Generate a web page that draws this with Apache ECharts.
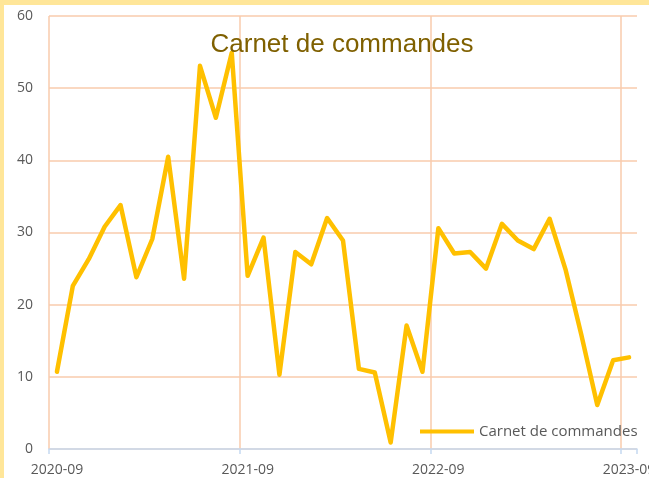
<!DOCTYPE html>
<html>
<head>
<meta charset="utf-8">
<script src="https://cdn.jsdelivr.net/npm/echarts@6/dist/echarts.min.js"></script>
<style>
  html, body { margin: 0; padding: 0; background: #ffffff; }
  #chart { width: 649px; height: 478px; }
</style>
</head>
<body>
<div id="chart"></div>
<script>
// Monthly order-book readings, Sept 2020 to Sept 2023
const months = [
  '2020-09','2020-10','2020-11','2020-12','2021-01','2021-02','2021-03','2021-04','2021-05','2021-06','2021-07','2021-08',
  '2021-09','2021-10','2021-11','2021-12','2022-01','2022-02','2022-03','2022-04','2022-05','2022-06','2022-07','2022-08',
  '2022-09','2022-10','2022-11','2022-12','2023-01','2023-02','2023-03','2023-04','2023-05','2023-06','2023-07','2023-08',
  '2023-09'
];
const carnet = [
  10.7, 22.6, 26.3, 30.8, 33.8, 23.8, 29.1, 40.5, 23.6, 53.1, 45.9, 54.9,
  24.0, 29.3, 10.3, 27.3, 25.6, 32.0, 28.9, 11.1, 10.6, 0.9, 17.1, 10.7,
  30.6, 27.1, 27.3, 25.0, 31.2, 28.9, 27.7, 31.9, 24.9, 15.8, 6.1, 12.3,
  12.7
];
const seriesName = 'Carnet de commandes';
const yTicks = { min: 0, max: 60, step: 10 };

const chart = echarts.init(document.getElementById('chart'), null, { renderer: 'canvas' });
const labelFont = '"Open Sans", "Liberation Sans", sans-serif';
const gridPeach = '#F8CBAD';

chart.setOption({
  animation: false,
  backgroundColor: '#ffffff',
  graphic: [
    { type: 'rect', left: 0, top: 0, shape: { width: 649, height: 5 }, style: { fill: '#FFE699' }, z: 100 },
    { type: 'rect', left: 0, top: 0, shape: { width: 4, height: 478 }, style: { fill: '#FFE699' }, z: 100 }
  ],
  title: {
    text: seriesName,
    left: 337,
    top: 27,
    textAlign: 'center',
    textStyle: {
      fontFamily: '"Liberation Sans", Arial, sans-serif',
      fontSize: 26,
      fontWeight: 'normal',
      color: '#7F6000'
    }
  },
  legend: {
    data: [seriesName],
    left: 420,
    top: 424,
    padding: 0,
    icon: 'rect',
    itemWidth: 54,
    itemHeight: 4,
    itemGap: 5,
    textStyle: { fontFamily: labelFont, fontSize: 15, color: '#595959', padding: [0, 0, 0, 0] }
  },
  grid: { left: 49, right: 12, top: 16, bottom: 29, containLabel: false, outerBoundsMode: 'none' },
  xAxis: {
    type: 'category',
    data: months,
    boundaryGap: true,
    axisLine: { show: true, lineStyle: { color: '#C5D9F1', width: 1.5 } },
    axisTick: { show: true, interval: 11, alignWithLabel: false, length: 5, lineStyle: { color: '#C5D9F1', width: 1.5 } },
    axisLabel: { interval: 11, margin: 14, color: '#595959', fontFamily: labelFont, fontSize: 14, hideOverlap: false },
    // yearly vertical guides; the closing boundary at the right edge stays invisible
    splitLine: {
      show: true,
      interval: 11,
      lineStyle: { color: [gridPeach, gridPeach, gridPeach, gridPeach, 'rgba(0,0,0,0)'], width: 1.5 }
    }
  },
  yAxis: {
    type: 'value',
    min: yTicks.min,
    max: yTicks.max,
    interval: yTicks.step,
    axisLine: { show: false },
    axisTick: { show: false },
    axisLabel: { margin: 16, color: '#595959', fontFamily: labelFont, fontSize: 14 },
    splitLine: { show: true, lineStyle: { color: gridPeach, width: 1.5 } }
  },
  series: [{
    name: seriesName,
    type: 'line',
    data: carnet,
    symbol: 'none',
    itemStyle: { color: '#FFC000' },
    lineStyle: { color: '#FFC000', width: 4.5, cap: 'round', join: 'round' },
    z: 3
  }]
});
</script>
</body>
</html>
